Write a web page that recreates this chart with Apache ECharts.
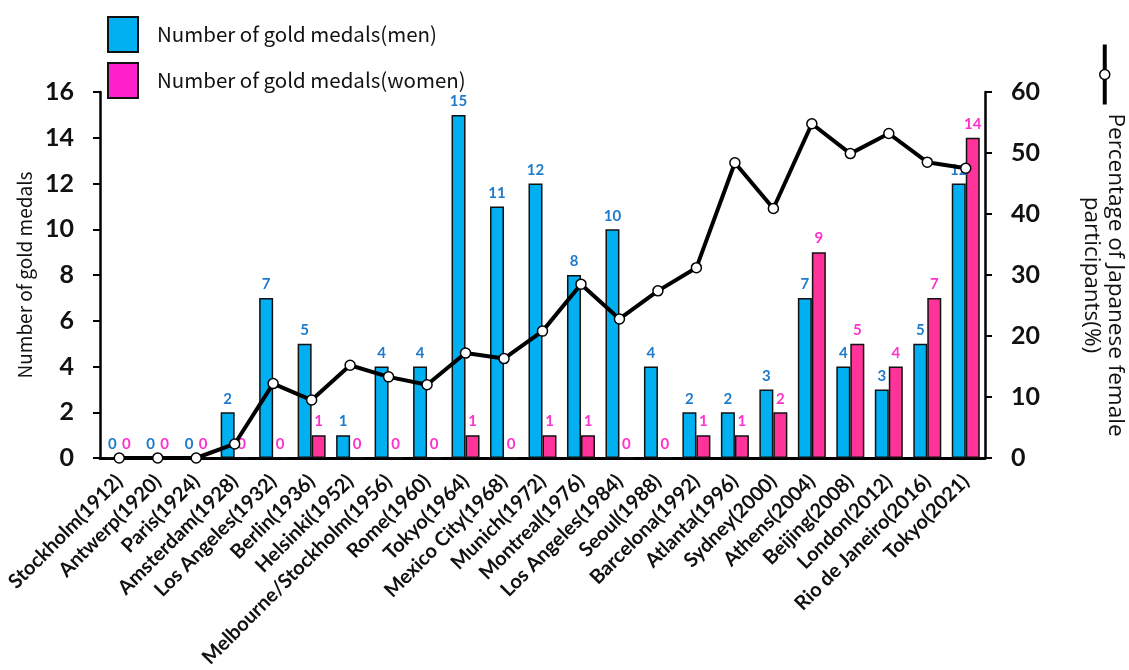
<!DOCTYPE html>
<html>
<head>
<meta charset="utf-8">
<script src="https://cdn.jsdelivr.net/npm/echarts@6/dist/echarts.min.js"></script>
<style>
  html, body { margin: 0; padding: 0; background: #fff; }
  #chart { width: 1129px; height: 670px; }
</style>
</head>
<body>
<div id="chart"></div>
<script>
// Summer Games (host city and year)
const games = [
  'Stockholm(1912)', 'Antwerp(1920)', 'Paris(1924)', 'Amsterdam(1928)', 'Los Angeles(1932)',
  'Berlin(1936)', 'Helsinki(1952)', 'Melbourne/Stockholm(1956)', 'Rome(1960)', 'Tokyo(1964)',
  'Mexico City(1968)', 'Munich(1972)', 'Montreal(1976)', 'Los Angeles(1984)', 'Seoul(1988)',
  'Barcelona(1992)', 'Atlanta(1996)', 'Sydney(2000)', 'Athens(2004)', 'Beijing(2008)',
  'London(2012)', 'Rio de Janeiro(2016)', 'Tokyo(2021)'
];
// Gold medals won by Japanese men and women
const goldMen = [0, 0, 0, 2, 7, 5, 1, 4, 4, 15, 11, 12, 8, 10, 4, 2, 2, 3, 7, 4, 3, 5, 12];
const goldWomen = [0, 0, 0, 0, 0, 1, 0, 0, 0, 1, 0, 1, 1, 0, 0, 1, 1, 2, 9, 5, 4, 7, 14];
// Share of women among Japanese participants (%)
const femaleShare = [0, 0, 0, 2.3, 12.2, 9.5, 15.2, 13.3, 12.0, 17.2, 16.3, 20.8, 28.5, 22.8,
  27.4, 31.2, 48.4, 40.9, 54.8, 49.9, 53.2, 48.5, 47.5];

const labelFont = 'Lato, "Open Sans", sans-serif';
const jpFont = '"Noto Sans CJK JP", "Noto Sans", sans-serif';

const chart = echarts.init(document.getElementById('chart'), null, { renderer: 'canvas' });

chart.setOption({
  animation: false,
  backgroundColor: '#ffffff',
  grid: { left: 100, right: 144, top: 92, bottom: 212, containLabel: false, outerBoundsMode: 'none' },
  legend: {
    orient: 'vertical',
    left: 102,
    top: 11,
    itemWidth: 30,
    itemHeight: 35,
    itemGap: 9,
    selectedMode: false,
    textStyle: { fontFamily: jpFont, fontSize: 20.5, color: '#111', padding: [0, 0, 0, 14] },
    data: [
      { name: 'Number of gold medals(men)', icon: 'rect',
        itemStyle: { color: '#00b0f0', borderColor: '#111', borderWidth: 2 } },
      { name: 'Number of gold medals(women)', icon: 'rect',
        itemStyle: { color: '#ff22cc', borderColor: '#111', borderWidth: 2 } }
    ]
  },
  xAxis: {
    type: 'category',
    data: games,
    axisLine: { lineStyle: { color: '#000', width: 3 } },
    axisTick: { show: false },
    axisLabel: {
      rotate: 45,
      interval: 0,
      margin: 20,
      color: '#111',
      fontFamily: labelFont,
      fontWeight: 'bold',
      fontSize: 20
    }
  },
  yAxis: [
    {
      type: 'value',
      min: 0, max: 16, interval: 2,
      name: 'Number of gold medals',
      nameLocation: 'middle',
      nameGap: 64,
      nameTextStyle: { fontFamily: jpFont, fontSize: 19, color: '#111' },
      splitLine: { show: false },
      axisLine: { show: true, lineStyle: { color: '#000', width: 2.5 } },
      axisTick: { show: true, length: 7, lineStyle: { color: '#000', width: 2 } },
      axisLabel: { color: '#111', fontFamily: labelFont, fontWeight: 'bold', fontSize: 25, margin: 26 }
    },
    {
      type: 'value',
      min: 0, max: 60, interval: 10,
      name: 'Percentage of Japanese female\nparticipants(%)',
      nameLocation: 'middle',
      nameRotate: -90,
      nameGap: 94,
      nameTextStyle: { fontFamily: '"Open Sans", "Noto Sans", sans-serif', fontSize: 22.5, color: '#111', lineHeight: 24 },
      splitLine: { show: false },
      axisLine: { show: true, lineStyle: { color: '#000', width: 2.5 } },
      axisTick: { show: true, length: 7, lineStyle: { color: '#000', width: 2 } },
      axisLabel: { color: '#111', fontFamily: labelFont, fontWeight: 'bold', fontSize: 25, margin: 26 }
    }
  ],
  series: [
    {
      name: 'Number of gold medals(men)',
      type: 'bar',
      data: goldMen,
      barWidth: 14,
      barGap: '0%',
      itemStyle: { color: '#00b0f0', borderColor: '#111', borderWidth: 1.5 },
      label: {
        show: true, position: 'top', distance: 6,
        color: '#1e7acb', fontFamily: labelFont, fontWeight: 'bold', fontSize: 15
      },
      z: 2
    },
    {
      name: 'Number of gold medals(women)',
      type: 'bar',
      data: goldWomen,
      barWidth: 14,
      itemStyle: { color: '#ff3399', borderColor: '#111', borderWidth: 1.5 },
      label: {
        show: true, position: 'top', distance: 6,
        color: '#ff33cc', fontFamily: labelFont, fontWeight: 'bold', fontSize: 15
      },
      z: 2
    },
    {
      name: 'Percentage of Japanese female participants(%)',
      type: 'line',
      yAxisIndex: 1,
      data: femaleShare,
      symbol: 'circle',
      symbolSize: 10,
      lineStyle: { color: '#000', width: 4 },
      itemStyle: { color: '#fff', borderColor: '#000', borderWidth: 1.5 },
      z: 5
    }
  ],
  graphic: [
    {
      type: 'group',
      left: 1099,
      top: 42,
      children: [
        { type: 'line', shape: { x1: 5, y1: 0, x2: 5, y2: 60 }, style: { stroke: '#000', lineWidth: 4 } },
        { type: 'circle', shape: { cx: 5, cy: 30, r: 5 }, style: { fill: '#fff', stroke: '#000', lineWidth: 1.5 } }
      ]
    }
  ]
});
</script>
</body>
</html>
